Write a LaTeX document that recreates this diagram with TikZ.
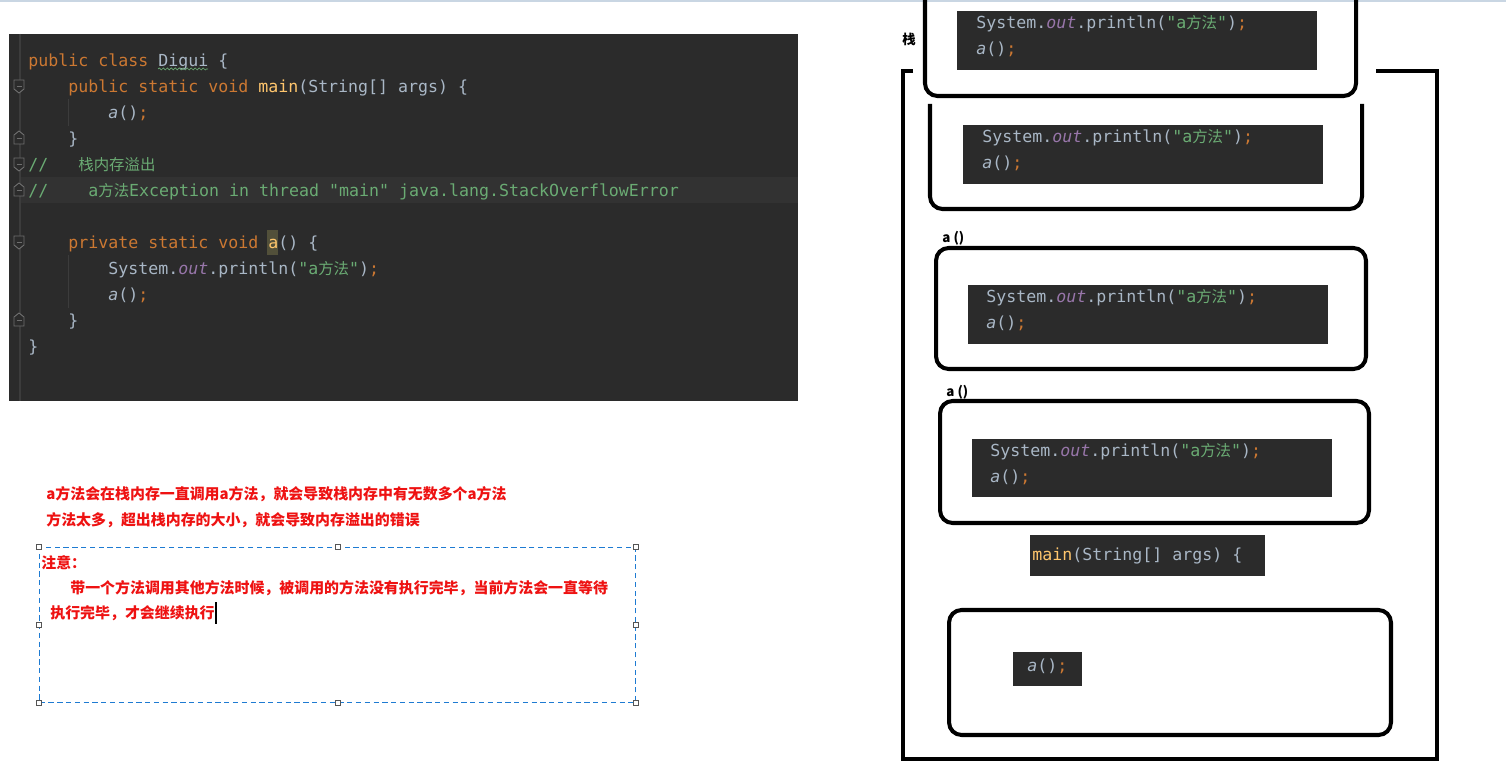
\documentclass[tikz,border=0pt]{standalone}
\usepackage{fontspec}
\setmonofont{DejaVu Sans Mono}
\newfontfamily\cjk{Noto Sans CJK SC}
\newfontfamily\cjkcode[Scale=0.93]{Noto Sans CJK SC}
\usetikzlibrary{positioning, calc, decorations.pathmorphing}

% Darcula colours
\definecolor{codebg}{HTML}{2B2B2B}
\definecolor{rowhl}{HTML}{323232}
\definecolor{jplain}{HTML}{A9B7C6}
\definecolor{jkwcol}{HTML}{CC7832}
\definecolor{jfncol}{HTML}{FFC66D}
\definecolor{jfldcol}{HTML}{9876AA}
\definecolor{jgreen}{HTML}{6AAB73}
\definecolor{ahl}{HTML}{52503A}
\definecolor{foldgray}{HTML}{6E6E6E}
\definecolor{guidegray}{HTML}{3C3C3C}
\definecolor{notered}{RGB}{238,18,18}
\definecolor{noteblue}{HTML}{1E7BD2}
\definecolor{handlegray}{HTML}{555555}
\definecolor{topline}{HTML}{C9D6E3}

\newcommand{\jkw}[1]{\textcolor{jkwcol}{#1}}
\newcommand{\jfn}[1]{\textcolor{jfncol}{#1}}
\newcommand{\jstr}[1]{\textcolor{jgreen}{#1}}
\newcommand{\jfld}[1]{\textcolor{jfldcol}{\itshape #1}}
\newcommand{\jsemi}{\textcolor{jkwcol}{;}}
\newcommand{\zh}[1]{{\cjkcode #1}}
\newcommand{\printA}{System.\jfld{out}.println(\jstr{"a\zh{方法}"})\jsemi}
\newcommand{\callA}{{\itshape a}()\jsemi}

\begin{document}
\begin{tikzpicture}[
        x=0.02cm, y=-0.02cm,
        code/.style={
            font=\ttfamily\fontsize{9.45}{11}\selectfont,
            text=jplain,
            inner sep=0pt,
            text height=8.5pt,
            text depth=1.3pt,
            anchor=west
        },
        snippet/.style={
            rectangle,
            fill=codebg,
            inner sep=0pt,
            anchor=north west
        },
        boxline/.style={
            draw,
            line width=2.3pt,
            rounded corners=0.25cm
        },
        callbox/.style={
            boxline,
            rectangle,
            inner sep=0pt
        },
        stack/.style={
            draw,
            line width=2.3pt,
            line join=miter
        },
        label_text/.style={
            font=\cjk\bfseries\fontsize{7.6}{9}\selectfont,
            inner sep=0pt,
            text height=6.5pt,
            text depth=1pt,
            anchor=west
        },
        redtext/.style={
            font=\cjk\bfseries\fontsize{8.5}{10}\selectfont,
            text=notered,
            inner sep=0pt,
            text height=7.5pt,
            text depth=1pt,
            anchor=west
        },
        handle/.style={
            rectangle,
            draw=handlegray,
            fill=white,
            line width=0.5pt,
            minimum size=0.1cm,
            inner sep=0pt
        },
        fold/.style={
            draw=foldgray,
            fill=codebg,
            line width=0.5pt
        }
    ]

    \useasboundingbox (0,0) rectangle (1506,773);
    \fill[white] (0,0) rectangle (1506,773);
    \draw[topline, line width=0.6pt] (0,1) -- (1506,1);

    % --- 1. CODE PANEL ---
    \node[snippet, minimum width=15.78cm, minimum height=7.34cm] (panel) at (9,34) {};
    \fill[rowhl] (20,177) rectangle (798,203);
    \draw[guidegray, line width=0.6pt] (20,34) -- (20,401);
    \draw[guidegray, line width=0.5pt] (68,99) -- (68,126);
    \draw[guidegray, line width=0.5pt] (68,255) -- (68,308);

    % fold markers
    \foreach \yy in {86,164,242} {
        \draw[fold] (14,\yy-6) -- (24,\yy-6) -- (24,\yy+3) -- (19,\yy+7) -- (14,\yy+3) -- cycle;
        \draw[foldgray, line width=0.5pt] (16.5,\yy) -- (21.5,\yy);
    }
    \foreach \yy in {138,190,320} {
        \draw[fold] (14,\yy+6) -- (24,\yy+6) -- (24,\yy-3) -- (19,\yy-7) -- (14,\yy-3) -- cycle;
        \draw[foldgray, line width=0.5pt] (16.5,\yy) -- (21.5,\yy);
    }
    \fill[ahl] (267,230) rectangle (278,255);

    \node[code] (l1) at (28,60) {\jkw{public class} Digui \{};
    \draw[jgreen, line width=0.4pt, decorate, decoration={snake, amplitude=0.02cm, segment length=0.08cm}] (158,69) -- (208,69);
    \node[code] (l2) at (68,86) {\jkw{public static void} \jfn{main}(String[] args) \{};
    \node[code] (l3) at (108,112) {\callA};
    \node[code] (l4) at (68,138) {\}};
    \node[code, text=jgreen] (l5a) at (28,164) {//};
    \node[code, text=jgreen] (l5b) at (78,164) {\zh{栈内存溢出}};
    \node[code, text=jgreen] (l6a) at (28,190) {//};
    \node[code, text=jgreen] (l6b) at (88,190) {a\zh{方法}Exception in thread "main" java.lang.StackOverflowError};
    \node[code] (l7) at (68,242) {\jkw{private static void} \jfn{a}() \{};
    \node[code] (l8) at (108,268) {\printA};
    \node[code] (l9) at (108,294) {\callA};
    \node[code] (l10) at (68,320) {\}};
    \node[code] (l11) at (28,346) {\}};

    % --- 2. NOTES ---
    \node[redtext] (why1) at (46,494) {a方法会在栈内存一直调用a方法，就会导致栈内存中有无数多个a方法};
    \node[redtext] (why2) at (46,520) {方法太多，超出栈内存的大小，就会导致内存溢出的错误};

    \node[draw=noteblue, line width=0.8pt, dash pattern=on 3pt off 2pt, minimum width=11.92cm, minimum height=3.1cm, anchor=north west, inner sep=0pt] (note) at (39,547) {};
    \foreach \a [count=\i] in {north west, north, north east, east, south east, south, south west, west}
        \node[handle] (h\i) at (note.\a) {};
    \node[redtext] (notetitle) at (41,563) {注意：};
    \node[redtext] (note1) at (70,588) {带一个方法调用其他方法时候，被调用的方法没有执行完毕，当前方法会一直等待};
    \node[redtext] (note2) at (50,613) {执行完毕，才会继续执行};
    \draw[black, line width=0.6pt] ($(note2.east)+(1,-11)$) -- ($(note2.east)+(1,11)$);

    % --- 3. STACK ---
    \node[label_text] (stacklabel) at (902,40) {栈};
    \draw[stack] (913,71) -- (903,71) -- (903,759) -- (1437,759) -- (1437,71) -- (1376,71);

    % top frames (cut off)
    \draw[boxline] (925,0) -- (925,96) -- (1356,96) -- (1356,0);
    \node[snippet, minimum width=7.2cm, minimum height=1.18cm] (s1) at (957,11) {};
    \node[code] (t1a) at ($(s1.north west)+(19,11)$) {\printA};
    \node[code] (t1b) at ($(s1.north west)+(19,37)$) {\callA};

    \draw[boxline] (930,104) -- (930,209) -- (1362,209) -- (1362,104);
    \node[snippet, minimum width=7.2cm, minimum height=1.18cm] (s2) at (963,125) {};
    \node[code] (t2a) at ($(s2.north west)+(19,11)$) {\printA};
    \node[code] (t2b) at ($(s2.north west)+(19,37)$) {\callA};

    % a () frames
    \node[label_text] (lab3) at (942,238) {a ()};
    \node[callbox, minimum width=8.6cm, minimum height=2.42cm] (f3) at (1151,308.5) {};
    \node[snippet, minimum width=7.2cm, minimum height=1.18cm] (s3) at (968,285) {};
    \node[code] (t3a) at ($(s3.north west)+(18,11)$) {\printA};
    \node[code] (t3b) at ($(s3.north west)+(18,37)$) {\callA};

    \node[label_text] (lab4) at (946,392) {a ()};
    \node[callbox, minimum width=8.58cm, minimum height=2.44cm] (f4) at (1154.5,462) {};
    \node[snippet, minimum width=7.2cm, minimum height=1.16cm] (s4) at (972,439) {};
    \node[code] (t4a) at ($(s4.north west)+(18,11)$) {\printA};
    \node[code] (t4b) at ($(s4.north west)+(18,37)$) {\callA};

    % main frame
    \node[snippet, minimum width=4.7cm, minimum height=0.82cm] (sm) at (1030,535) {};
    \node[code] (tm) at ($(sm.north west)+(2,19)$) {\jfn{main}(String[] args) \{};
    \node[callbox, minimum width=8.84cm, minimum height=2.5cm] (f5) at (1170,672.5) {};
    \node[snippet, minimum width=1.38cm, minimum height=0.68cm] (s5) at (1013,652) {};
    \node[code] (t5) at ($(s5.north west)+(14,13)$) {\callA};

\end{tikzpicture}
\end{document}
